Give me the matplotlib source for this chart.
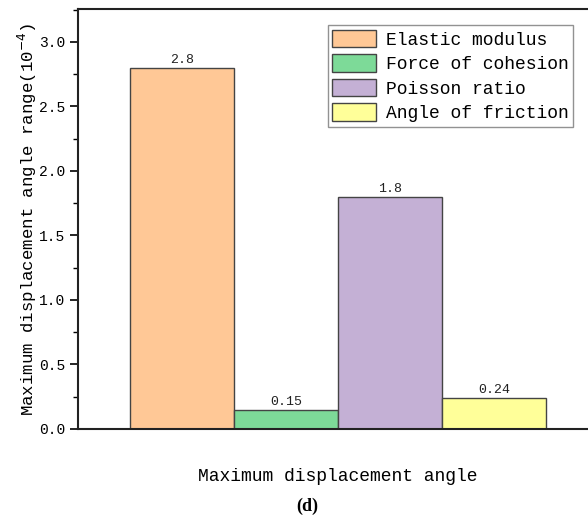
import matplotlib
matplotlib.use("Agg")
import matplotlib.pyplot as plt
from matplotlib.ticker import MultipleLocator

categories = ["Elastic modulus", "Force of cohesion", "Poisson ratio", "Angle of friction"]
values = [2.8, 0.15, 1.8, 0.24]
value_labels = ["2.8", "0.15", "1.8", "0.24"]
colors = ["#FFC896", "#7DDA98", "#C4B0D5", "#FFFF99"]

mono = ["Liberation Mono", "DejaVu Sans Mono"]
plt.rcParams['font.family'] = mono

fig = plt.figure(figsize=(5.88, 5.21), dpi=100)
ax = fig.add_axes([78/588, 1-429/521, 520/588, 420/521])

positions = list(range(len(categories)))
bars = ax.bar(positions, values, width=1.0, color=colors, edgecolor="#444444",
              linewidth=1.0, label=categories)
for b, lab in zip(bars, value_labels):
    ax.text(b.get_x() + b.get_width()/2, b.get_height() + 0.012, lab,
            ha="center", va="bottom", fontsize=9.5, color="#222222")

ax.set_xlim(-1, 4)
ax.set_ylim(0, 3.255)
ax.set_xticks([])
ax.yaxis.set_major_locator(MultipleLocator(0.5))
ax.yaxis.set_minor_locator(MultipleLocator(0.25))
ax.yaxis.set_major_formatter(matplotlib.ticker.FormatStrFormatter("%.1f"))
ax.tick_params(axis="y", which="major", direction="out", length=6, width=1.2, labelsize=10.5, pad=3)
ax.tick_params(axis="y", which="minor", direction="out", length=3.5, width=1.0)
for s in ["left", "bottom", "top"]:
    ax.spines[s].set_linewidth(1.5)
    ax.spines[s].set_color("#222222")
ax.spines["right"].set_visible(False)

ax.set_ylabel("Maximum displacement angle range(10$^{-4}$)", fontsize=12.5, labelpad=0)
ax.text(0.5, -0.112, "Maximum displacement angle", transform=ax.transAxes,
        ha="center", va="center", fontsize=13)
fig.text(307/588, 1-506/521, "(d)", ha="center", va="center", fontsize=13,
         fontweight="bold", family=["Liberation Serif", "DejaVu Serif"])

leg = ax.legend(loc="upper right", bbox_to_anchor=((573-78)/520, (429-25)/420),
                borderaxespad=0, fontsize=13, frameon=True, fancybox=False,
                handlelength=2.4, handleheight=1.15, labelspacing=0.3,
                handletextpad=0.55, borderpad=0.25)
leg.get_frame().set_edgecolor("#777777")
leg.get_frame().set_linewidth(1.0)

fig.savefig("out.png", dpi=100)
